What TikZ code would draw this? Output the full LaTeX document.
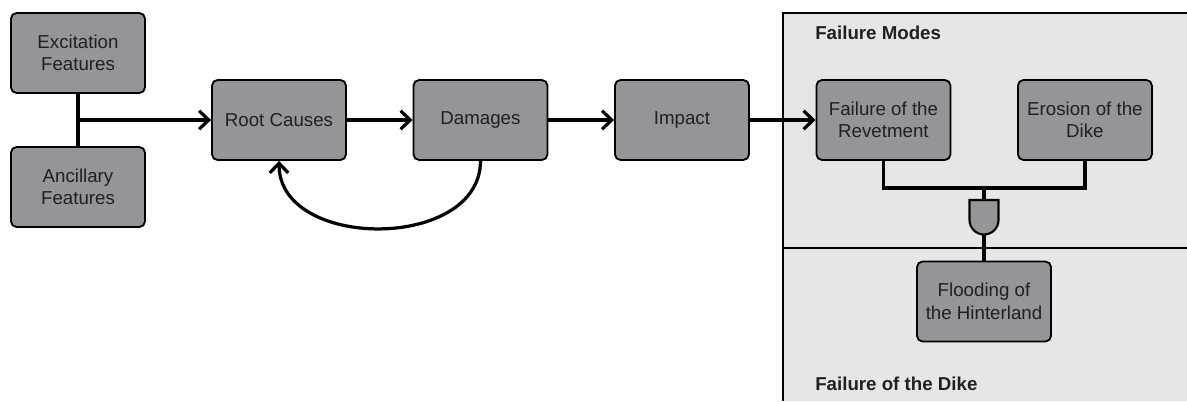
\documentclass[tikz,border=0pt]{standalone}
\usepackage{fontspec}
\setmainfont{Liberation Sans}
\usepackage{xcolor}
\usetikzlibrary{calc,positioning,arrows.meta}
\definecolor{boxgray}{HTML}{939598}
\definecolor{panelgray}{HTML}{E6E6E6}
\definecolor{txtcol}{HTML}{231F20}

\begin{document}
\begin{tikzpicture}[x=0.025cm,y=-0.025cm,node distance=1.64cm,
	>={Straight Barb[length=2.4mm,width=4.6mm]}]
	\tikzstyle{every node}=[font=\fontsize{13.3}{16}\selectfont,text=txtcol]
	\tikzstyle{block}=[draw,fill=boxgray,rounded corners=4pt,line width=1.3pt,
		minimum width=3.35cm,minimum height=2cm,inner sep=0pt,align=center]
	\tikzstyle{conn}=[line width=2.3pt]
	\useasboundingbox (0,0) rectangle (1187,401);

	% panel on the right
	\fill[panelgray] (783,13) rectangle (1187,401);
	\draw[line width=1.2pt] (783,401) -- (783,13) -- (1187,13);
	\draw[line width=1pt] (783,248) -- (1187,248);
	\node[anchor=west,inner sep=0pt,font=\fontsize{13.3}{16}\selectfont\bfseries] (fmodes) at (815,33) {Failure Modes};
	\node[anchor=west,inner sep=0pt,font=\fontsize{13.3}{16}\selectfont\bfseries] (fdike) at (815,384) {Failure of the Dike};

	\node[block] (exc) at (78,53) {Excitation\\Features};
	\node[block] (anc) at (78,187) {Ancillary\\Features};
	\node[block] (root) at (279,120) {Root Causes};
	\node[block,right=of root] (dmg) {Damages};
	\node[block,right=of dmg] (imp) {Impact};
	\node[block,right=of imp] (frev) {Failure of the\\Revetment};
	\node[block,right=of frev] (edike) {Erosion of the\\Dike};
	\node[block] (flood) at (984,301.5) {Flooding of\\the Hinterland};

	% and gate
	\draw[line width=1.5pt,fill=boxgray] (969.5,200) -- (998.5,200) -- (998.5,220)
		arc (0:180:14.5) -- cycle;
	\coordinate (gtop) at (984,200);
	\coordinate (gbot) at (984,234.5);
	\coordinate (bus) at (984,188);
	\coordinate (j) at ($(exc.south)!0.5!(anc.north)$);

	\draw[conn] (exc.south) -- (anc.north);
	\draw[conn,->] (j) -- (root.west);
	\draw[conn,->] (root) -- (dmg);
	\draw[conn,->] (dmg) -- (imp);
	\draw[conn,->] (imp) -- (frev);
	\draw[conn,->] (dmg.south) .. controls +(0,90) and +(0,90) .. (root.south);
	\draw[conn] (frev.south) |- (bus) -| (edike.south);
	\draw[conn] (bus) -- (gtop);
	\draw[conn] (gbot) -- (flood.north);
\end{tikzpicture}
\end{document}
